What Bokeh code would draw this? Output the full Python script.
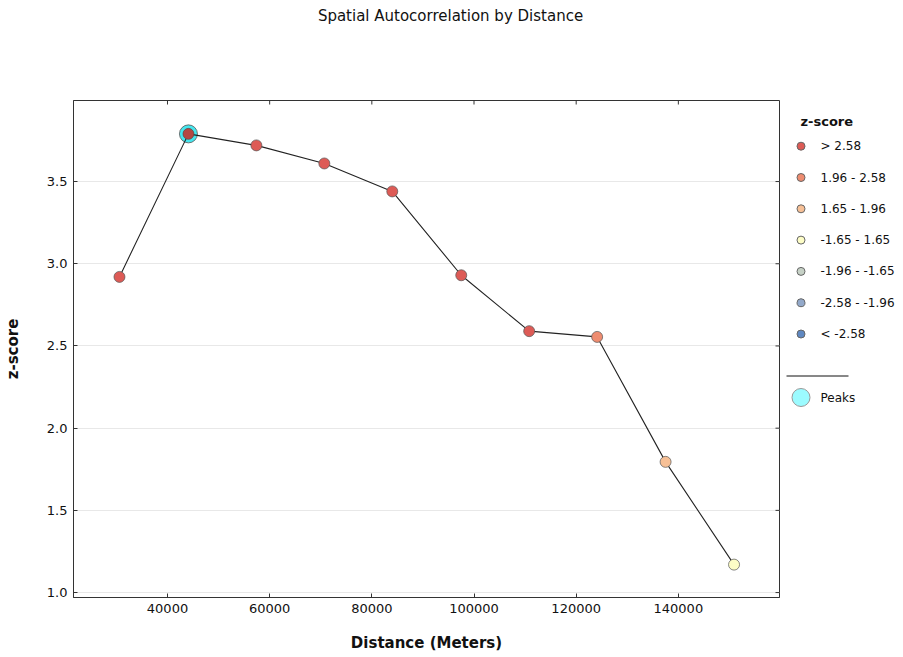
import math
from bokeh.plotting import figure
from bokeh.models import Range1d, FixedTicker, ColumnDataSource
from bokeh.layouts import column, row
from bokeh.embed import file_html
from bokeh.resources import INLINE
from bokeh.core.properties import value

# ---------------- data ----------------
distances = [30600, 44100, 57400, 70700, 84000, 97500, 110800, 124100, 137500, 150900]
zscores = [2.92, 3.79, 3.72, 3.61, 3.44, 2.93, 2.59, 2.555, 1.795, 1.17]

bin_labels = ["> 2.58", "1.96 - 2.58", "1.65 - 1.96", "-1.65 - 1.65",
              "-1.96 - -1.65", "-2.58 - -1.96", "< -2.58"]
bin_colors = ["#dd5b56", "#ee8c70", "#f7c096", "#fdfdc6", "#c6d1c6", "#93a9ca", "#5f88c1"]
bin_lower = [2.58, 1.96, 1.65, -1.65, -1.96, -2.58, float("-inf")]

x_ticks = [40000, 60000, 80000, 100000, 120000, 140000]
y_ticks = [1.0, 1.5, 2.0, 2.5, 3.0, 3.5]

title_text = "Spatial Autocorrelation by Distance"
x_label = "Distance (Meters)"
y_label = "z-score"
legend_title = "z-score"
peak_label = "Peaks"

FONT = "DejaVu Sans"
X_MIN, X_MAX = 21600, 159800
Y_MIN, Y_MAX = 0.970, 3.993


def classify(z):
    for i, lo in enumerate(bin_lower):
        if z > lo:
            return i
    return len(bin_lower) - 1


point_colors = [bin_colors[classify(z)] for z in zscores]

# peaks: interior local maxima of the z-score series
peak_idx = [i for i in range(1, len(zscores) - 1)
            if zscores[i] > zscores[i - 1] and zscores[i] > zscores[i + 1]]
peak_x = [distances[i] for i in peak_idx]
peak_y = [zscores[i] for i in peak_idx]

# ---------------- layout sizes ----------------
BL, BR, BT, BB = 73, 5, 53, 57
FW, FH = 706, 497
LEG_W = 113
MAIN_W = BL + FW + BR
TOTAL_W = MAIN_W + LEG_W
TITLE_H = 47
ORIGIN_X = 1

# ---------------- title figure ----------------
tfig = figure(width=TOTAL_W, height=TITLE_H, x_range=Range1d(0, TOTAL_W), y_range=Range1d(TITLE_H, 0),
              output_backend="svg", toolbar_location=None, min_border=0,
              x_axis_location=None, y_axis_location=None)
tfig.outline_line_color = None
tfig.grid.visible = False
tfig.text(x=[450], y=[15.5], text=[title_text], text_font=value(FONT),
          text_font_size="15px", text_align="center", text_baseline="middle", text_color="#111111")

# ---------------- main figure ----------------
p = figure(frame_width=FW, frame_height=FH,
           x_range=Range1d(X_MIN, X_MAX), y_range=Range1d(Y_MIN, Y_MAX),
           output_backend="svg", toolbar_location=None,
           min_border_left=BL, min_border_right=BR, min_border_top=BT, min_border_bottom=BB)
p.outline_line_color = "#333333"

p.xaxis.ticker = FixedTicker(ticks=x_ticks)
p.xaxis.major_label_overrides = {t: str(t) for t in x_ticks}
p.yaxis.ticker = FixedTicker(ticks=y_ticks)
p.yaxis.major_label_overrides = {t: f"{t:.1f}" for t in y_ticks}

for ax in [p.xaxis[0], p.yaxis[0]]:
    ax.major_tick_in = 4
    ax.major_tick_out = 0
    ax.minor_tick_in = 0
    ax.minor_tick_out = 0
    ax.axis_line_color = "#333333"
    ax.major_tick_line_color = "#333333"
    ax.major_label_text_font = FONT
    ax.major_label_text_font_size = "13px"
    ax.major_label_text_color = "#111111"
    ax.major_label_standoff = 6
    ax.axis_label_text_font = FONT
    ax.axis_label_text_font_size = "15px"
    ax.axis_label_text_font_style = "bold"
    ax.axis_label_text_color = "#111111"

p.xaxis.axis_label = x_label
p.yaxis.axis_label = y_label
p.xaxis.axis_label_standoff = 18
p.yaxis.axis_label_standoff = 22

p.xgrid.visible = False
p.ygrid.ticker = FixedTicker(ticks=y_ticks)
p.ygrid.grid_line_color = "#e8e8e8"
p.ygrid.grid_line_width = 1

# mirrored inward ticks on top and right edges (half of each dash is clipped by the frame)
p.scatter(x=x_ticks, y=[Y_MAX] * len(x_ticks), marker="dash", angle=math.pi / 2, size=8,
          line_color="#333333", line_width=1)
p.scatter(x=[X_MAX] * len(y_ticks), y=y_ticks, marker="dash", size=8,
          line_color="#333333", line_width=1)

# peak highlight (under the line)
p.scatter(x=peak_x, y=peak_y, size=18, fill_color="#45e6ee", line_color="#555555",
          line_alpha=0.8, line_width=1)
# connecting line
p.line(x=distances, y=zscores, line_color="#222222", line_width=1.1)
# points
src = ColumnDataSource(dict(x=distances, y=zscores, c=point_colors))
p.scatter(x="x", y="y", source=src, size=11, fill_color="c", line_color="#555555",
          line_alpha=0.7, line_width=1)
# darker centre for peak points
p.scatter(x=peak_x, y=peak_y, size=11, fill_color="#5a1a15", fill_alpha=0.3, line_color=None)

# ---------------- legend figure (page-pixel coordinates, frame aligned with main frame) ----------------
PX0 = ORIGIN_X + MAIN_W          # page x of legend frame left edge
leg = figure(frame_width=LEG_W, frame_height=FH,
             x_range=Range1d(PX0, PX0 + LEG_W), y_range=Range1d(101 + FH, 101),
             output_backend="svg", toolbar_location=None,
             min_border_left=0, min_border_right=0, min_border_top=BT, min_border_bottom=BB,
             x_axis_location=None, y_axis_location=None)
leg.outline_line_color = None
leg.grid.visible = False

leg.text(x=[801], y=[121.5], text=[legend_title], text_font=value(FONT), text_font_size="13px",
         text_font_style="bold", text_baseline="middle", text_align="left", text_color="#111111")
entry_y = [146.7 + 31.3 * i for i in range(len(bin_labels))]
leg.scatter(x=[801.5] * len(bin_labels), y=entry_y, size=8, fill_color=bin_colors,
            line_color="#666666", line_width=1)
leg.text(x=[821] * len(bin_labels), y=entry_y, text=bin_labels, text_font=value(FONT),
         text_font_size="12px", text_baseline="middle", text_align="left", text_color="#111111")
leg.line(x=[787, 849], y=[376.5, 376.5], line_color="#111111", line_width=1)
leg.scatter(x=[801.5], y=[398], size=18, fill_color="#9cfbff", line_color="#999999", line_width=1)
leg.text(x=[821], y=[398], text=[peak_label], text_font=value(FONT), text_font_size="12px",
         text_baseline="middle", text_align="left", text_color="#111111")

layout = column(tfig, row(p, leg))
open("out.html", "w").write(file_html(layout, INLINE))
